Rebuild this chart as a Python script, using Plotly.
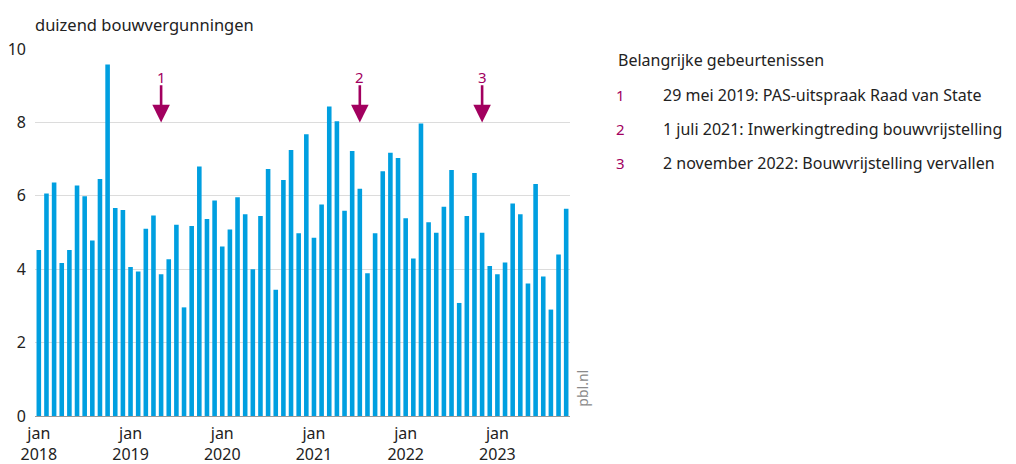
import plotly.graph_objects as go

# ---- data ----
years = [2018, 2019, 2020, 2021, 2022, 2023]
month_labels = [f"{y}-{m:02d}" for y in years for m in range(1, 13)][:70]
permits = [
    4.52, 6.06, 6.36, 4.17, 4.52, 6.28, 5.99, 4.78, 6.46, 9.58, 5.67, 5.61,
    4.06, 3.94, 5.10, 5.46, 3.86, 4.27, 5.21, 2.96, 5.18, 6.80, 5.37, 5.87,
    4.62, 5.08, 5.96, 5.50, 4.00, 5.45, 6.73, 3.44, 6.43, 7.25, 4.98, 7.68,
    4.86, 5.76, 8.43, 8.03, 5.59, 7.22, 6.19, 3.89, 4.98, 6.67, 7.17, 7.03,
    5.39, 4.29, 7.97, 5.28, 4.99, 5.70, 6.70, 3.08, 5.45, 6.62, 4.99, 4.09,
    3.86, 4.18, 5.79, 5.50, 3.61, 6.32, 3.80, 2.90, 4.40, 5.65,
]
tick_vals = [f"{y}-01" for y in years]
tick_text = [f"jan<br>{y}" for y in years]
y_ticks = [0, 2, 4, 6, 8, 10]

event_nums = ["1", "2", "3"]
event_months = ["2019-05", "2021-07", "2022-11"]
event_texts = [
    "29 mei 2019: PAS-uitspraak Raad van State",
    "1 juli 2021: Inwerkingtreding bouwvrijstelling",
    "2 november 2022: Bouwvrijstelling vervallen",
]

FONT = "Noto Sans"
BLUE = "#009fe0"
PURPLE = "#a2005f"
TXT = "#222222"

fig = go.Figure()
fig.add_trace(go.Bar(x=month_labels, y=permits, marker_color=BLUE,
                     marker_line_width=0, hoverinfo="x+y"))

# page offset (default body margin) and figure size
OFF = 8
FW, FH = 1016 - OFF, 464 - OFF
# plot geometry in window pixels
PL, PR, PT, PB = 35, 570, 49, 415.7
L = PL - OFF
T = PT - OFF
W = PR - PL
H = PB - PT
R = FW - L - W
B = FH - T - H


def px2x(px):
    return (px - PL) / W


def px2y(py):
    return (PB - py) / H


annotations = []
for num, mon in zip(event_nums, event_months):
    annotations.append(dict(x=mon, y=8.0, ax=mon, ay=9.05, xref="x", yref="y",
                            axref="x", ayref="y", text="", showarrow=True,
                            arrowhead=2, arrowsize=1.35, arrowwidth=2.6,
                            arrowcolor=PURPLE))
    annotations.append(dict(x=mon, y=9.24, xref="x", yref="y", text=num,
                            showarrow=False, yanchor="middle",
                            font=dict(family=FONT, size=15, color=PURPLE)))

annotations.append(dict(x=px2x(616), y=px2y(60), xref="paper", yref="paper",
                        text="Belangrijke gebeurtenissen", showarrow=False,
                        xanchor="left", yanchor="middle",
                        font=dict(family=FONT, size=16, color=TXT)))
for i, (num, txt) in enumerate(zip(event_nums, event_texts)):
    ypix = 95 + i * 34
    annotations.append(dict(x=px2x(614), y=px2y(ypix), xref="paper", yref="paper",
                            text=num, showarrow=False, xanchor="left",
                            yanchor="middle",
                            font=dict(family=FONT, size=15, color=PURPLE)))
    annotations.append(dict(x=px2x(661), y=px2y(ypix), xref="paper", yref="paper",
                            text=txt, showarrow=False, xanchor="left",
                            yanchor="middle",
                            font=dict(family=FONT, size=16, color=TXT)))

annotations.append(dict(x=px2x(33), y=px2y(25), xref="paper",
                        yref="paper", text="duizend bouwvergunningen",
                        showarrow=False, xanchor="left", yanchor="middle",
                        font=dict(family=FONT, size=16.5, color=TXT)))
annotations.append(dict(x=1, y=0.02, xref="paper", yref="paper", text="pbl.nl",
                        showarrow=False, textangle=-90, xanchor="left",
                        yanchor="bottom", xshift=1,
                        font=dict(family=FONT, size=14, color="#8a8a8a")))

fig.update_layout(
    width=FW, height=FH,
    margin=dict(l=L, r=R, t=T, b=B, pad=0),
    paper_bgcolor="white", plot_bgcolor="white",
    showlegend=False, bargap=0.4,
    font=dict(family=FONT, size=15, color=TXT),
    annotations=annotations,
    xaxis=dict(type="category", tickmode="array", tickvals=tick_vals,
               ticktext=tick_text, showgrid=False, ticks="", automargin=False,
               showline=True, linecolor="#9a9a9a", linewidth=1,
               ticklabelstandoff=3,
               tickfont=dict(family=FONT, size=16, color=TXT)),
    yaxis=dict(range=[0, 10], tickvals=y_ticks, showgrid=True, automargin=False,
               gridcolor="#dcdcdc", gridwidth=1, zeroline=False,
               ticks="", ticklabelstandoff=8,
               tickfont=dict(family=FONT, size=16, color=TXT)),
)

fig.write_html("out.html")
